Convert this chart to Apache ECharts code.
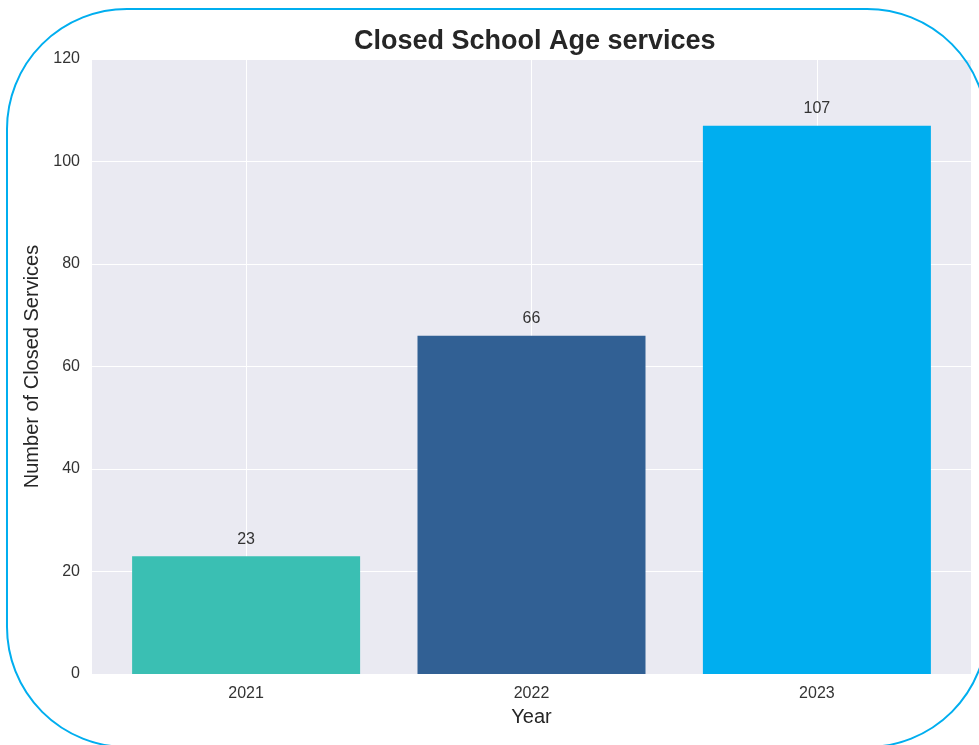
<!DOCTYPE html>
<html>
<head>
<meta charset="utf-8">
<script src="https://cdn.jsdelivr.net/npm/echarts@6/dist/echarts.min.js"></script>
<style>
  html, body { margin: 0; padding: 0; background: #fff; }
  #main { width: 979px; height: 745px; }
</style>
</head>
<body>
<div id="main"></div>
<script>
// data
var years = ['2021', '2022', '2023'];
var closedCounts = [23, 66, 107];
var barColors = ['#3abfb3', '#316094', '#00aeef'];
var yTicks = [0, 20, 40, 60, 80, 100, 120];

var myChart = echarts.init(document.getElementById('main'));

var barData = years.map(function (y, i) {
  return {
    value: [i, closedCounts[i]],
    itemStyle: { color: barColors[i] }
  };
});

var option = {
  backgroundColor: '#ffffff',
  animation: false,
  textStyle: { fontFamily: 'Liberation Sans' },
  title: {
    text: 'Closed School Age services',
    left: 349,
    top: 23,
    textStyle: { fontSize: 27, fontWeight: 'bold', color: '#262626', fontFamily: 'Liberation Sans' }
  },
  // rounded frame round the figure
  graphic: [{
    type: 'rect',
    z: 100,
    silent: true,
    shape: { x: 7, y: 9, width: 980, height: 738, r: 120 },
    style: { fill: null, stroke: '#00aeef', lineWidth: 2 }
  }],
  grid: {
    left: 92, right: 8, top: 59, bottom: 71,
    show: true, backgroundColor: '#eaeaf2', borderWidth: 0
  },
  xAxis: {
    type: 'value',
    min: -0.54,
    max: 2.54,
    name: 'Year',
    nameLocation: 'middle',
    nameGap: 33,
    nameTextStyle: { fontSize: 20, color: '#262626' },
    axisLine: { show: false },
    axisTick: { show: false },
    splitLine: { show: false },
    axisLabel: {
      customValues: [0, 1, 2],
      fontSize: 16,
      color: '#333',
      margin: 12,
      formatter: function (v) { return years[Math.round(v)] || ''; }
    }
  },
  yAxis: {
    type: 'value',
    min: yTicks[0],
    max: yTicks[yTicks.length - 1],
    interval: 20,
    name: 'Number of Closed Services',
    nameLocation: 'middle',
    nameGap: 49,
    nameTextStyle: { fontSize: 20, color: '#262626' },
    axisLine: { show: false },
    axisTick: { show: false },
    axisLabel: { fontSize: 16, color: '#333', margin: 12 },
    splitLine: { show: true, lineStyle: { color: '#ffffff', width: 1 } }
  },
  series: [{
    type: 'bar',
    data: barData,
    barWidth: 228,
    z: 2,
    label: {
      show: true,
      position: 'top',
      distance: 9,
      fontSize: 16,
      color: '#333',
      formatter: function (p) { return p.value[1]; }
    },
    markLine: {
      silent: true,
      z: 1,
      symbol: ['none', 'none'],
      label: { show: false },
      lineStyle: { color: '#ffffff', width: 1, type: 'solid' },
      data: years.map(function (y, i) { return { xAxis: i }; })
    }
  }]
};

myChart.setOption(option);
</script>
</body>
</html>
